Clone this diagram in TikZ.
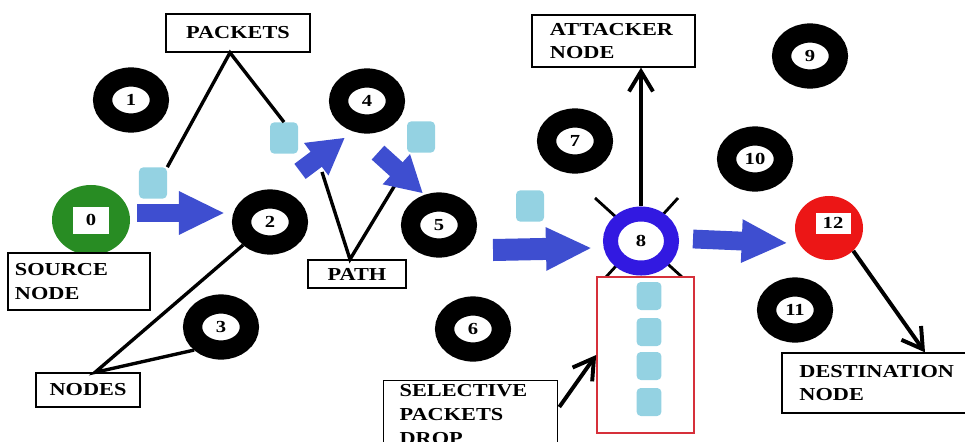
\documentclass[tikz,border=0pt]{standalone}
\usepackage{fontspec}
\setmainfont{Liberation Serif}[FakeStretch=1.22]
\usetikzlibrary{positioning,arrows.meta,calc,shapes.geometric,backgrounds}
\definecolor{SourceGreen}{RGB}{40,140,35}
\definecolor{DestRed}{RGB}{236,22,22}
\definecolor{AttackBlue}{RGB}{50,25,225}
\definecolor{FlowBlue}{RGB}{62,78,208}
\definecolor{PacketBlue}{RGB}{148,210,226}
\definecolor{DropRed}{RGB}{214,48,58}
\tikzset{
  ringnode/.style={ellipse,draw=black,fill=white,line width=0.48cm,
    minimum width=1.42cm,minimum height=1.15cm,inner sep=0pt,
    font=\bfseries\fontsize{12}{12}\selectfont},
  attackring/.style={ellipse,draw=AttackBlue,fill=white,line width=0.375cm,
    minimum width=1.525cm,minimum height=1.35cm,inner sep=0pt,
    font=\bfseries\fontsize{12}{12}\selectfont},
  filledring/.style={ellipse,inner sep=0pt},
  idbox/.style={fill=white,inner sep=0pt,font=\bfseries\fontsize{12}{12}\selectfont},
  labelbox/.style={draw=black,line width=0.9pt,fill=white,inner ysep=0pt,
    font=\bfseries\fontsize{13}{17}\selectfont},
  packet/.style={fill=PacketBlue,rounded corners=3pt,inner sep=0pt,
    minimum width=0.7cm,minimum height=0.78cm},
  flow/.style={-{Triangle[length=1.15cm,width=1cm]},line width=0.47cm,draw=FlowBlue},
  shortflow/.style={-{Triangle[length=0.9cm,width=0.95cm]},line width=0.47cm,draw=FlowBlue},
  link/.style={line width=2.4pt,draw=black},
  pointer/.style={-{Straight Barb[length=0.5cm,width=0.6cm]},line width=2.8pt,draw=black}
}

\begin{document}
\begin{tikzpicture}[x=0.025cm,y=-0.025cm]
  \useasboundingbox (0,0) rectangle (965,441);

  % network nodes
  \node[ringnode] (n1) at (131,100) {1};
  \node[ringnode] (n2) at (270,222) {2};
  \node[ringnode] (n3) at (221,327) {3};
  \node[ringnode] (n4) at (367,101) {4};
  \node[ringnode] (n5) at (439,225) {5};
  \node[ringnode] (n6) at (473,329) {6};
  \node[ringnode] (n7) at (575,141) {7};
  \node[ringnode] (n9) at (810,56) {9};
  \node[ringnode] (n10) at (755,159) {10};
  \node[ringnode] (n11) at (795,310) {11};
  \node[attackring] (n8) at (641,241) {8};
  \node[filledring,fill=SourceGreen,minimum width=1.95cm,minimum height=1.75cm] (n0) at (91,220) {};
  \node[idbox,minimum width=0.9cm,minimum height=0.675cm] (n0id) at (n0.center) {0};
  \node[filledring,fill=DestRed,minimum width=1.7cm,minimum height=1.6cm] (n12) at (829,228) {};
  \node[idbox,minimum width=0.875cm,minimum height=0.525cm] (n12id) at ([shift={(4,-5)}]n12.center) {12};

  % cross behind the attacker
  \begin{scope}[on background layer]
    \draw[link,line width=2pt] ([shift={(-46,-43)}]n8.center) -- ([shift={(41,36)}]n8.center);
    \draw[link,line width=2pt] ([shift={(37,-43)}]n8.center) -- ([shift={(-35,36)}]n8.center);
  \end{scope}

  % packets on the way
  \node[packet] (pkA) at (153,183) {};
  \node[packet] (pkB) at (284,138) {};
  \node[packet] (pkC) at (421,137) {};
  \node[packet] (pkD) at (530,206) {};

  % dropped packets
  \node[draw=DropRed,line width=1.2pt,minimum width=2.425cm,minimum height=3.9cm,inner sep=0pt] (drop) at (645.5,355) {};
  \node[packet,minimum width=0.62cm,minimum height=0.7cm] (dp1) at (649,296) {};
  \node[packet,minimum width=0.62cm,minimum height=0.7cm] (dp2) at (649,332) {};
  \node[packet,minimum width=0.62cm,minimum height=0.7cm] (dp3) at (649,366) {};
  \node[packet,minimum width=0.62cm,minimum height=0.7cm] (dp4) at (649,402) {};

  % labels
  \node[labelbox,minimum width=3.6cm,minimum height=0.95cm] (packets) at (238,33) {PACKETS};
  \node[labelbox,text width=3.175cm,inner xsep=0.45cm,minimum height=1.3cm,align=left] (attacker) at (613.5,41) {ATTACKER\\NODE};
  \node[labelbox,text width=3.2cm,inner xsep=0.175cm,minimum height=1.425cm,align=left] (source) at (79,281.5) {SOURCE\\NODE};
  \node[labelbox,minimum width=2.45cm,minimum height=0.7cm] (path) at (357,274) {PATH};
  \node[labelbox,minimum width=2.6cm,minimum height=0.85cm] (nodes) at (88,390) {NODES};
  \node[labelbox,text width=3.95cm,inner xsep=0.4375cm,minimum height=1.5cm,align=left] (dest) at (878.5,383) {DESTINATION\\NODE};
  \node[labelbox,anchor=north west,text width=3.55cm,inner xsep=0.4cm,inner ysep=0.1cm,align=left] (select) at (383,380) {SELECTIVE\\PACKETS\\DROP};

  % pointers from the labels
  \coordinate (pathA) at (322,172);
  \coordinate (pathB) at (395,185);
  \draw[link] (pkA.north east) -- ([shift={(-8,0)}]packets.south) -- (pkB.north);
  \draw[link] (pathA) -- ([shift={(-7,0)}]path.north) -- (pathB);
  \draw[link] (n2.south west) -- ([shift={(7,0)}]nodes.north) -- (n3.south west);
  \draw[pointer] (n8.north) -- (n8.north |- attacker.south);
  \draw[pointer] (n12.south east) -- ([shift={(46.5,0)}]dest.north);
  \draw[pointer] ([shift={(1,27)}]select.north east) -- (drop.west);

  % packet flow
  \draw[flow] ([shift={(7,-7)}]n0.east) -- ([shift={(-7,-9)}]n2.west);
  \draw[shortflow] ([shift={(30,-18)}]n2.north) -- ([shift={(-22,4)}]n4.south);
  \draw[shortflow] ([shift={(11,19)}]n4.south) -- ([shift={(-16,1)}]n5.north);
  \draw[flow,line width=0.55cm] ([shift={(16,25)}]n5.east) -- ([shift={(-11,7)}]n8.west);
  \draw[flow] ([shift={(14,-2)}]n8.east) -- ([shift={(-7,15)}]n12.west);
\end{tikzpicture}
\end{document}
